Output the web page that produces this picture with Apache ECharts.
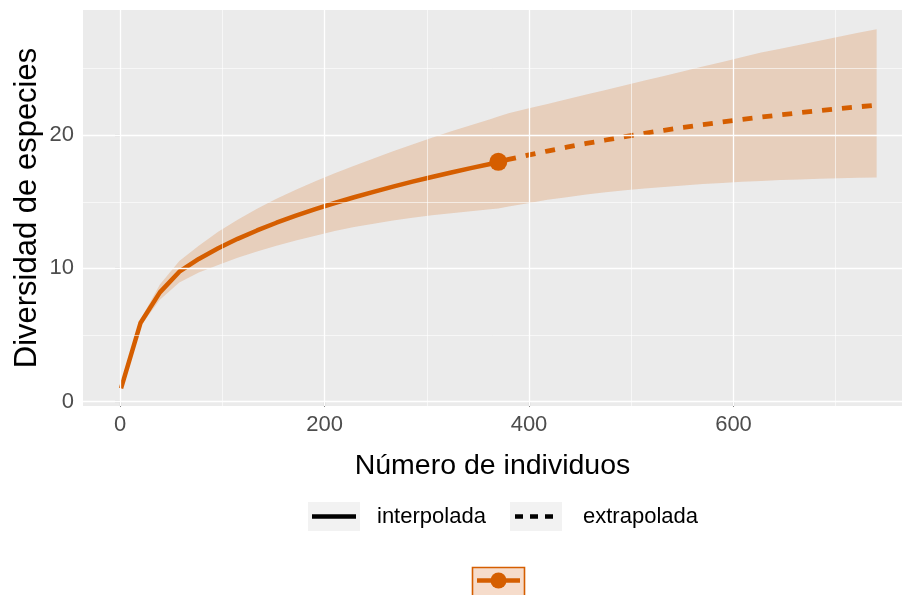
<!DOCTYPE html>
<html><head><meta charset="utf-8">
<script src="https://cdn.jsdelivr.net/npm/echarts@6/dist/echarts.min.js"></script>
<style>html,body{margin:0;padding:0;background:#fff}#c{width:902px;height:595px}</style>
</head><body><div id="c"></div>
<script>
// ---- data ----
const interpX  = [1, 20, 39, 58, 77, 96, 115, 134, 153, 172, 191, 210, 229, 248, 267, 286, 305, 324, 343, 362, 370];
const interpY  = [1, 5.9, 8.2, 9.75, 10.71, 11.51, 12.22, 12.85, 13.43, 13.96, 14.45, 14.91, 15.34, 15.75, 16.14, 16.51, 16.86, 17.20, 17.53, 17.84, 18.0];
const interpLo = [1, 5.65, 7.65, 8.95, 9.7, 10.25, 10.8, 11.27, 11.7, 12.1, 12.45, 12.8, 13.1, 13.35, 13.6, 13.8, 14.0, 14.15, 14.3, 14.45, 14.5];
const interpHi = [1, 6.15, 8.8, 10.55, 11.7, 12.75, 13.65, 14.47, 15.23, 15.9, 16.55, 17.15, 17.7, 18.25, 18.8, 19.3, 19.8, 20.3, 20.75, 21.2, 21.4];

const extrapX  = [370, 380, 399, 418, 437, 456, 475, 494, 513, 532, 551, 570, 589, 608, 627, 646, 665, 684, 703, 722, 740];
const extrapY  = [18.0, 18.18, 18.50, 18.81, 19.10, 19.38, 19.64, 19.90, 20.14, 20.37, 20.58, 20.79, 20.99, 21.18, 21.36, 21.53, 21.69, 21.84, 21.99, 22.13, 22.26];
const extrapLo = [14.5, 14.65, 14.9, 15.15, 15.35, 15.55, 15.72, 15.87, 16.0, 16.12, 16.23, 16.33, 16.42, 16.5, 16.57, 16.63, 16.68, 16.73, 16.77, 16.8, 16.83];
const extrapHi = [21.4, 21.65, 22.0, 22.35, 22.7, 23.05, 23.4, 23.75, 24.1, 24.45, 24.8, 25.15, 25.5, 25.85, 26.2, 26.5, 26.8, 27.1, 27.4, 27.7, 27.95];

const observedX = [370];
const observedY = [18.0];

const xTicks = [0, 200, 400, 600];
const xMinor = [100, 300, 500, 700];
const yTicks = [0, 10, 20];
const yMinor = [5, 15, 25];

const xTitle = 'Número de individuos';
const yTitle = 'Diversidad de especies';
const legendNames = ['interpolada', 'extrapolada'];

// ---- build ----
const COL = '#D55E00';
const FONT = 'Liberation Sans, Arial, Helvetica, sans-serif';

const bandX = interpX.concat(extrapX.slice(1));
const bandLo = interpLo.concat(extrapLo.slice(1));
const bandHi = interpHi.concat(extrapHi.slice(1));
const bandData = bandX.map((x, i) => [x, bandLo[i], bandHi[i]]);

const gridLines = []
  .concat(xTicks.map(v => ({xAxis: v, lineStyle: {width: 1.3}})))
  .concat(xMinor.map(v => ({xAxis: v, lineStyle: {width: 0.6}})))
  .concat(yTicks.map(v => ({yAxis: v, lineStyle: {width: 1.3}})))
  .concat(yMinor.map(v => ({yAxis: v, lineStyle: {width: 0.6}})));

const chart = echarts.init(document.getElementById('c'), null, {renderer: 'canvas'});
chart.setOption({
  animation: false,
  textStyle: {fontFamily: FONT},
  grid: {left: 83, right: 0, top: 10, bottom: 189, show: true, backgroundColor: '#EBEBEB', borderWidth: 0, outerBoundsMode: 'none'},
  xAxis: {
    type: 'value', min: -36.2, max: 764.8,
    axisLine: {show: false},
    splitLine: {show: false},
    axisTick: {show: true, customValues: xTicks, length: 5, lineStyle: {color: '#333', width: 1.1}},
    axisLabel: {customValues: xTicks, color: '#4D4D4D', fontSize: 22, margin: 8, fontFamily: FONT},
    name: xTitle, nameLocation: 'middle', nameGap: 46, nameMoveOverlap: false,
    nameTextStyle: {fontSize: 28.5, color: '#000', fontFamily: FONT}
  },
  yAxis: {
    type: 'value', min: -0.33, max: 29.4,
    axisLine: {show: false},
    splitLine: {show: false},
    axisTick: {show: true, customValues: yTicks, length: 5, lineStyle: {color: '#333', width: 1.1}},
    axisLabel: {customValues: yTicks, color: '#4D4D4D', fontSize: 22, margin: 9, fontFamily: FONT},
    name: yTitle, nameLocation: 'middle', nameGap: 40, nameMoveOverlap: false,
    nameTextStyle: {fontSize: 31, color: '#000', fontFamily: FONT}
  },
  series: [
    {
      type: 'line', data: [], z: 1, silent: true,
      markLine: {silent: true, symbol: 'none', label: {show: false}, animation: false,
        lineStyle: {color: '#FFFFFF', type: 'solid', width: 1.3}, data: gridLines}
    },
    {
      type: 'custom', z: 2, silent: true,
      data: bandData,
      encode: {x: 0, y: [1, 2]},
      renderItem: function (params, api) {
        if (params.dataIndex !== 0) return null;
        const pts = [];
        for (let i = 0; i < bandData.length; i++) pts.push(api.coord([bandData[i][0], bandData[i][2]]));
        for (let i = bandData.length - 1; i >= 0; i--) pts.push(api.coord([bandData[i][0], bandData[i][1]]));
        return {type: 'polygon', shape: {points: pts}, style: {fill: 'rgba(213,94,0,0.2)', stroke: null}};
      }
    },
    {
      type: 'line', z: 3, name: legendNames[0],
      data: interpX.map((x, i) => [x, interpY[i]]),
      showSymbol: false, symbol: 'none',
      lineStyle: {color: COL, width: 4.5, cap: 'butt', join: 'round'}
    },
    {
      type: 'line', z: 3, name: legendNames[1],
      data: extrapX.map((x, i) => [x, extrapY[i]]),
      showSymbol: false, symbol: 'none',
      lineStyle: {color: COL, width: 4.8, type: [10, 10], cap: 'butt', dashOffset: -8}
    },
    {
      type: 'scatter', z: 4, silent: true,
      data: observedX.map((x, i) => [x, observedY[i]]),
      symbol: 'circle', symbolSize: 18,
      itemStyle: {color: COL, opacity: 1}
    }
  ],
  graphic: [
    {type: 'rect', shape: {x: 308, y: 502, width: 52, height: 29}, style: {fill: '#F2F2F2'}},
    {type: 'line', shape: {x1: 312, y1: 516.5, x2: 356, y2: 516.5}, style: {stroke: '#000', lineWidth: 4.5}},
    {type: 'text', x: 377, y: 517, style: {text: legendNames[0], font: '22px ' + FONT, fill: '#000', verticalAlign: 'middle'}},
    {type: 'rect', shape: {x: 510, y: 502, width: 52, height: 29}, style: {fill: '#F2F2F2'}},
    {type: 'line', shape: {x1: 515, y1: 516.5, x2: 556, y2: 516.5}, style: {stroke: '#000', lineWidth: 4.5, lineDash: [8, 7]}},
    {type: 'text', x: 583, y: 517, style: {text: legendNames[1], font: '22px ' + FONT, fill: '#000', verticalAlign: 'middle'}},
    {type: 'rect', shape: {x: 472.5, y: 567.5, width: 52, height: 32}, style: {fill: '#F6DCCB', stroke: COL, lineWidth: 1.6}},
    {type: 'line', shape: {x1: 477, y1: 580.5, x2: 520, y2: 580.5}, style: {stroke: COL, lineWidth: 4.5}},
    {type: 'circle', shape: {cx: 498.5, cy: 580.5, r: 8}, style: {fill: COL}}
  ]
});
</script>
</body></html>
